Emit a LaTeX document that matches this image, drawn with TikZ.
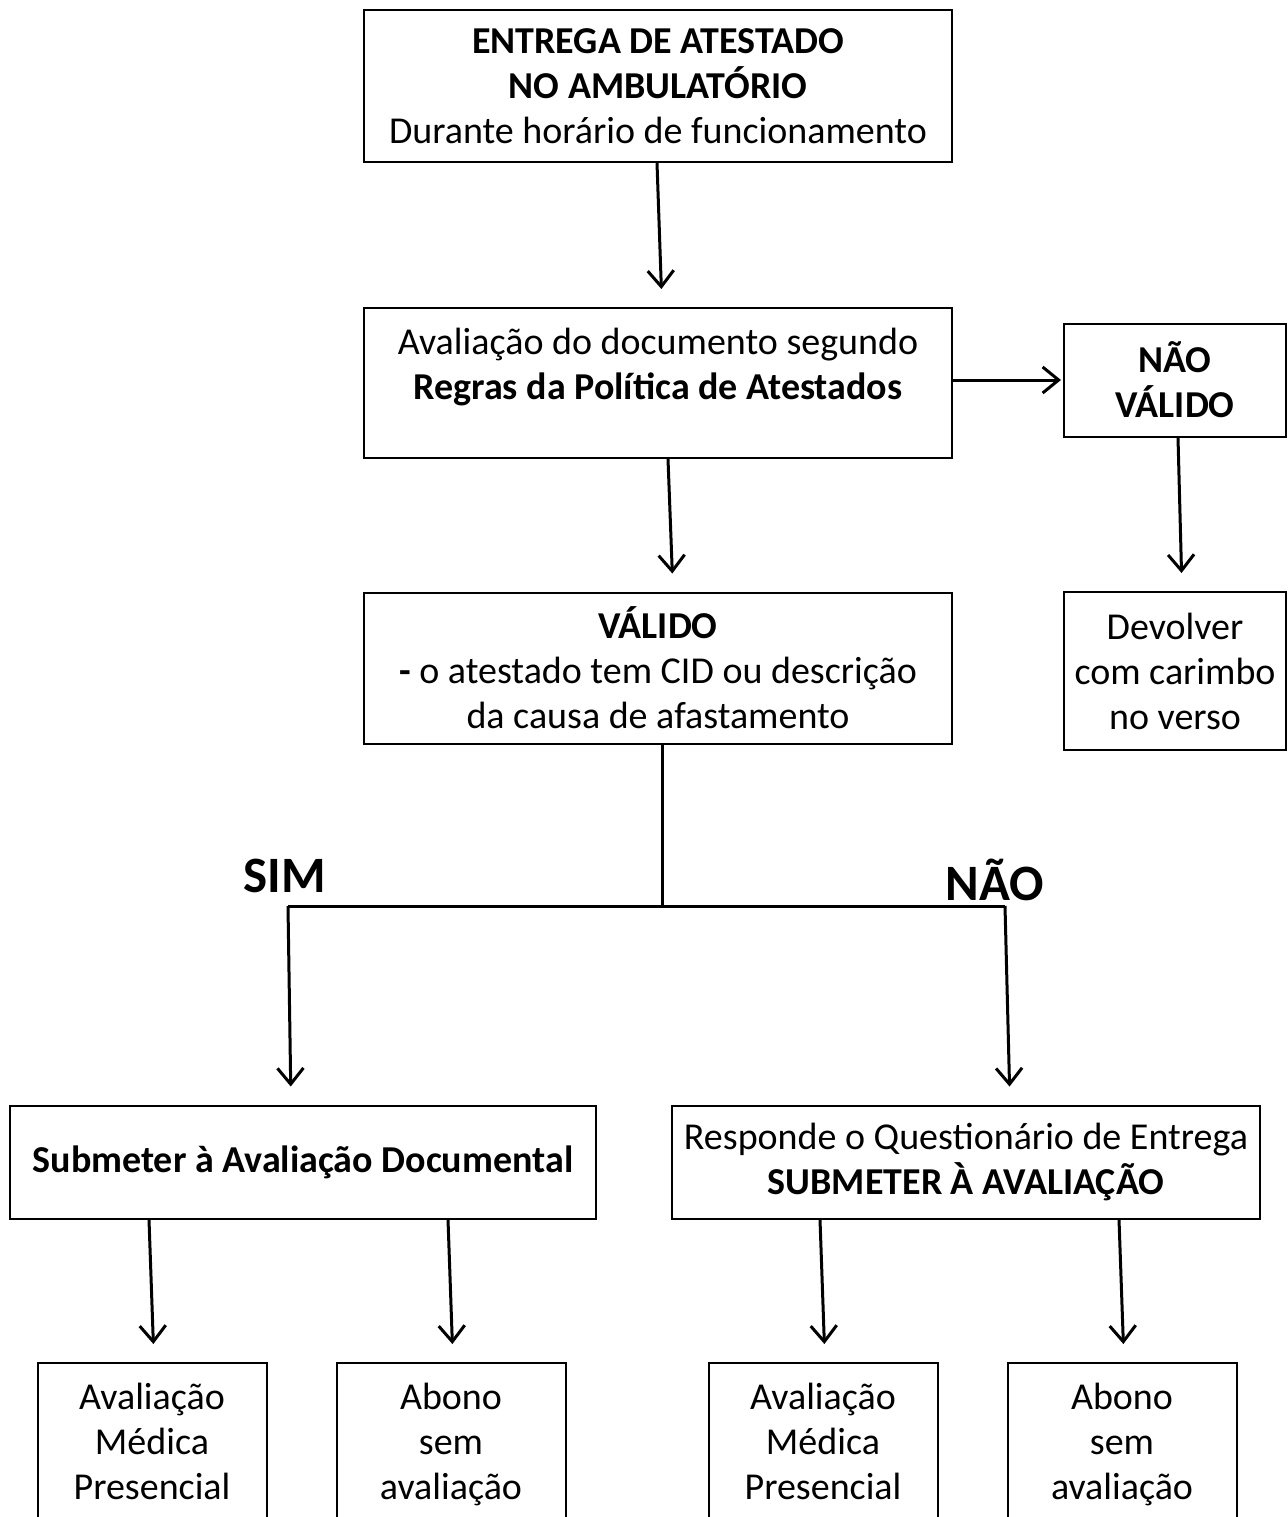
\documentclass[tikz,border=0pt]{standalone}
\usepackage{fontspec}
\setmainfont{Carlito}
\usetikzlibrary{arrows.meta,calc}

\begin{document}
\begin{tikzpicture}[x=1pt,y=-1pt,line join=miter]
    \tikzstyle{box}=[draw=black,line width=2pt,fill=white,align=center,inner sep=0pt,
        font=\fontsize{38}{45}\selectfont]
    \tikzstyle{arr}=[line width=3pt,-{Straight Barb[length=16pt,width=26pt,line width=3pt]},shorten >=18pt]
    \tikzstyle{lbl}=[font=\fontsize{51}{60}\selectfont\bfseries,inner sep=0pt]
    \useasboundingbox (0,0) rectangle (1287,1517);

    \node[box,minimum width=588pt,minimum height=152pt] (ent) at (658,86)
        {\textbf{ENTREGA DE ATESTADO}\\\textbf{NO AMBULATÓRIO}\\Durante horário de funcionamento};
    \node[box,minimum width=588pt,minimum height=150pt] (aval) at (658,383)
        {Avaliação do documento segundo\\\textbf{Regras da Política de Atestados}\\[-7pt]};
    \node[box,minimum width=222pt,minimum height=113pt] (naoval) at (1175,380)
        {\textbf{NÃO}\\\textbf{VÁLIDO}};
    \node[box,minimum width=222pt,minimum height=158pt] (devolver) at (1175,671)
        {Devolver\\com carimbo\\no verso};
    \node[box,minimum width=588pt,minimum height=151pt] (valido) at (658,668)
        {\textbf{VÁLIDO}\\\textbf{-} o atestado tem CID ou descrição\\da causa de afastamento};
    \node[box,minimum width=586pt,minimum height=113pt] (subdoc) at (303,1162)
        {\textbf{Submeter à Avaliação Documental}};
    \node[box,minimum width=588pt,minimum height=113pt] (resp) at (966,1162)
        {Responde o Questionário de Entrega\\\textbf{SUBMETER À AVALIAÇÃO}};

    \foreach \name/\x/\txt in {med1/152/Avaliação\\Médica\\Presencial, abo1/451/Abono\\sem\\avaliação,
                               med2/823/Avaliação\\Médica\\Presencial, abo2/1122/Abono\\sem\\avaliação}
        \node[box,minimum width=229pt,minimum height=160pt,text height=118pt,text depth=5pt] (\name) at (\x,1443) {\txt};

    \node[lbl] (sim) at (285,876) {SIM};
    \node[lbl] (nao) at (995,880) {NÃO};

    \coordinate (split) at (662,906);
    \coordinate (simL) at (288,906);
    \coordinate (naoR) at (1005,906);

    \draw[arr] ([xshift=-1pt]ent.south) -- ([xshift=4pt]aval.north);
    \draw[arr,shorten >=2pt] (aval.east |- naoval) -- (naoval.west);
    \draw[arr] ([xshift=3pt]naoval.south) -- ([xshift=7pt]devolver.north);
    \draw[arr] ([xshift=10pt]aval.south) -- ([xshift=15pt]valido.north);

    \draw[line width=3pt] (valido.south -| split) -- (split);
    \draw[line width=3pt] (simL) -- (naoR);
    \draw[arr] (simL) -- (subdoc.north -| 291,0);
    \draw[arr] (naoR) -- (resp.north -| 1010,0);

    \foreach \from/\to in {subdoc/med1, subdoc/abo1, resp/med2, resp/abo2}
        \draw[arr] ($(\from.south -| \to.north)+(-3,0)$) -- ($(\to.north)+(2,0)$);
\end{tikzpicture}
\end{document}
